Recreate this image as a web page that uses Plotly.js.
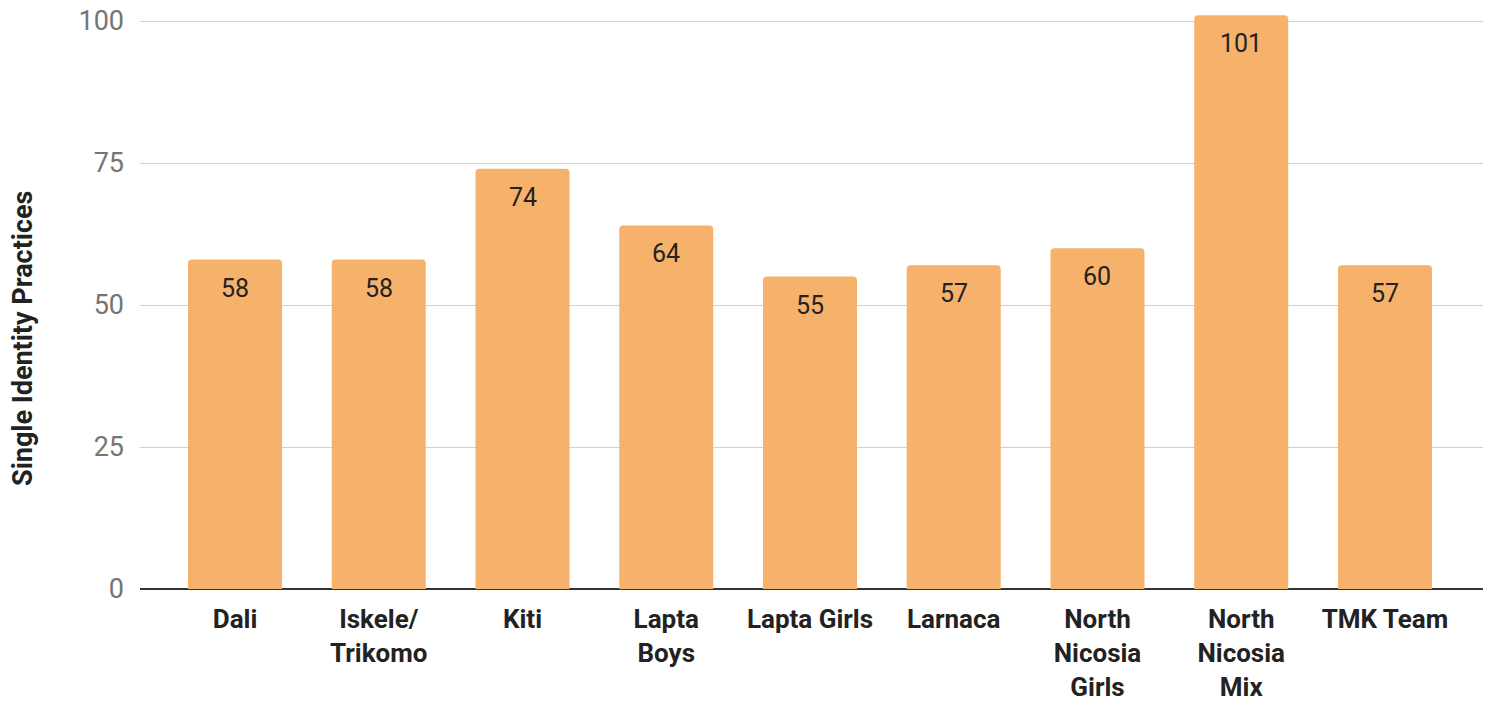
<!DOCTYPE html>
<html>
<head>
<meta charset="utf-8">
<script src="https://cdn.plot.ly/plotly-3.0.1.min.js"></script>
<style>html,body{margin:0;padding:0;background:#fff;}#chart{width:1493px;height:702px;}</style>
</head>
<body>
<div id="chart"></div>
<script>
const categories = ["Dali", "Iskele/<br>Trikomo", "Kiti", "Lapta<br>Boys", "Lapta Girls", "Larnaca", "North<br>Nicosia<br>Girls", "North<br>Nicosia<br>Mix", "TMK Team"];
const values = [58, 58, 74, 64, 55, 57, 60, 101, 57];
const yTicks = [0, 25, 50, 75, 100];
const yTitle = "Single Identity Practices";

const FONT = "Roboto, 'Liberation Sans', Arial, sans-serif";

const trace = {
  type: "bar",
  x: categories,
  y: values,
  marker: { color: "#f6b26b", cornerradius: 4 },
  hoverinfo: "none"
};

const annotations = categories.map((c, i) => ({
  x: c, y: values[i], xref: "x", yref: "y",
  text: String(values[i]),
  showarrow: false, yanchor: "top", yshift: -12,
  font: { family: FONT, size: 25, color: "#222222" }
}));

annotations.push({
  x: 0, y: 0.4318, xref: "paper", yref: "paper",
  xshift: -117, xanchor: "center", yanchor: "middle",
  text: yTitle, textangle: -90, showarrow: false,
  font: { family: FONT, size: 27, color: "#222222", weight: "bold" }
});

const layout = {
  width: 1493, height: 702,
  margin: { l: 140, r: 10, t: 10, b: 113 },
  paper_bgcolor: "#ffffff", plot_bgcolor: "#ffffff",
  bargap: 0.346,
  showlegend: false,
  xaxis: {
    type: "category",
    range: [-0.661, 8.682],
    tickfont: { family: FONT, size: 26, color: "#222222", weight: "bold" },
    ticks: "", ticklabelstandoff: 12,
    showgrid: false, showline: false, zeroline: false,
    automargin: false
  },
  yaxis: {
    range: [0, 101.94],
    tickvals: yTicks,
    ticktext: yTicks.map(String),
    tickfont: { family: FONT, size: 27, color: "#757575" },
    ticks: "", ticklabelstandoff: 15,
    showgrid: true, gridcolor: "#d0d0d0", gridwidth: 1,
    zeroline: true, zerolinecolor: "#333333", zerolinewidth: 2,
    showline: false, automargin: false
  },
  annotations: annotations
};

Plotly.newPlot("chart", [trace], layout, { staticPlot: true });
</script>
</body>
</html>
